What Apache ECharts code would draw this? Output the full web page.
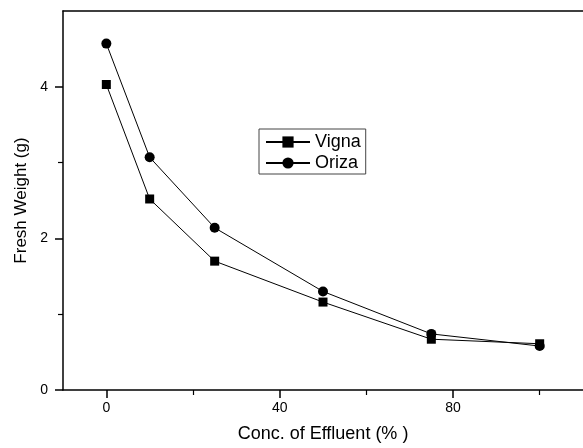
<!DOCTYPE html>
<html>
<head>
<meta charset="utf-8">
<script src="https://cdn.jsdelivr.net/npm/echarts@6/dist/echarts.min.js"></script>
<style>html,body{margin:0;padding:0;background:#fff}#c{width:583px;height:448px}</style>
</head>
<body>
<div id="c"></div>
<script>
const conc = [0, 10, 25, 50, 75, 100];
const vigna = [4.03, 2.52, 1.70, 1.16, 0.67, 0.61];
const oriza = [4.57, 3.07, 2.14, 1.30, 0.74, 0.58];
const xMajorTicks = [0, 40, 80];
const xMinorTicks = [20, 60, 100];
const yMajorTicks = [0, 2, 4];
const yMinorTicks = [1, 3];

const FONT = '"Liberation Sans", Arial, sans-serif';
const chart = echarts.init(document.getElementById('c'), null, {renderer: 'canvas'});
const xMin = -10, xMax = 110, yMin = 0, yMax = 5;
const axisLineStyle = {color: '#000', width: 1.5};

chart.setOption({
  animation: false,
  backgroundColor: '#fff',
  grid: {left: 63, top: 11, right: -7, bottom: 54, containLabel: false},
  legend: {
    orient: 'vertical', left: 259, top: 129,
    data: ['Vigna', 'Oriza'],
    itemWidth: 44, itemHeight: 14, itemGap: 3,
    padding: [4, 5, 2, 6],
    borderColor: '#444', borderWidth: 1,
    textStyle: {fontFamily: FONT, fontSize: 18, color: '#000'}
  },
  xAxis: [
    {
      type: 'value', min: xMin, max: xMax, position: 'bottom',
      name: 'Conc. of Effluent (% )', nameLocation: 'middle', nameGap: 35,
      nameTextStyle: {fontFamily: FONT, fontSize: 18, color: '#000'},
      axisLine: {show: true, onZero: false, lineStyle: axisLineStyle},
      axisTick: {show: true, inside: false, length: 8, customValues: xMajorTicks, lineStyle: {color: '#000', width: 1.5}},
      axisLabel: {show: true, customValues: xMajorTicks, margin: 11, fontFamily: FONT, fontSize: 14, color: '#000'},
      splitLine: {show: false}
    },
    {
      type: 'value', min: xMin, max: xMax, position: 'bottom',
      axisLine: {show: false, onZero: false},
      axisTick: {show: true, inside: false, length: 5, customValues: xMinorTicks, lineStyle: {color: '#000', width: 1.2}},
      axisLabel: {show: false},
      splitLine: {show: false}
    },
    {
      type: 'value', min: xMin, max: xMax, position: 'top',
      axisLine: {show: true, onZero: false, lineStyle: axisLineStyle},
      axisTick: {show: false},
      axisLabel: {show: false},
      splitLine: {show: false}
    }
  ],
  yAxis: [
    {
      type: 'value', min: yMin, max: yMax, position: 'left',
      name: 'Fresh Weight (g)', nameLocation: 'middle', nameGap: 31,
      nameTextStyle: {fontFamily: FONT, fontSize: 17, color: '#000'},
      axisLine: {show: true, onZero: false, lineStyle: axisLineStyle},
      axisTick: {show: true, inside: false, length: 8, customValues: yMajorTicks, lineStyle: {color: '#000', width: 1.5}},
      axisLabel: {show: true, customValues: yMajorTicks, margin: 15, fontFamily: FONT, fontSize: 14, color: '#000'},
      splitLine: {show: false}
    },
    {
      type: 'value', min: yMin, max: yMax, position: 'left',
      axisLine: {show: false, onZero: false},
      axisTick: {show: true, inside: false, length: 5, customValues: yMinorTicks, lineStyle: {color: '#000', width: 1.2}},
      axisLabel: {show: false},
      splitLine: {show: false}
    }
  ],
  series: [
    {
      name: 'Vigna', type: 'line', xAxisIndex: 0, yAxisIndex: 0,
      data: conc.map((c, i) => [c, vigna[i]]),
      symbol: 'rect', symbolSize: 9,
      itemStyle: {color: '#000'},
      lineStyle: {color: '#000', width: 1},
      z: 3
    },
    {
      name: 'Oriza', type: 'line', xAxisIndex: 0, yAxisIndex: 0,
      data: conc.map((c, i) => [c, oriza[i]]),
      symbol: 'circle', symbolSize: 10,
      itemStyle: {color: '#000'},
      lineStyle: {color: '#000', width: 1},
      z: 2
    }
  ]
});
</script>
</body>
</html>
